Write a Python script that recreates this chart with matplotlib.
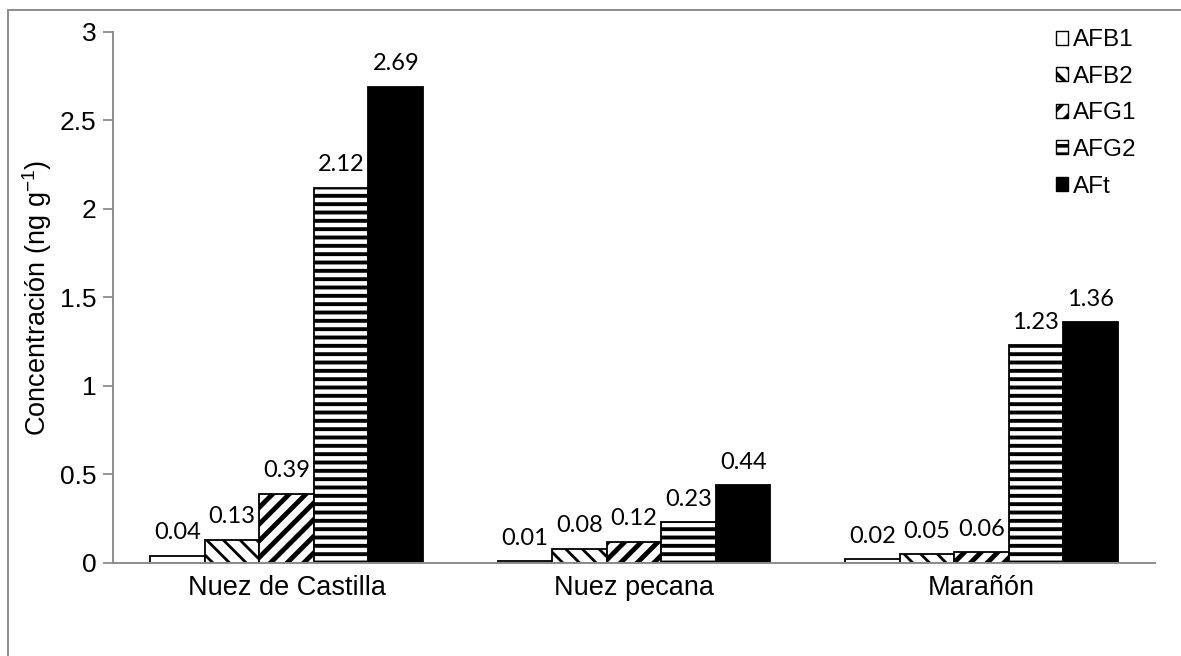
import numpy as np
import matplotlib
matplotlib.use('Agg')
import matplotlib.pyplot as plt
from matplotlib.patches import Rectangle

# datos
categorias = ['Nuez de Castilla', 'Nuez pecana', 'Marañón']
series = ['AFB1', 'AFB2', 'AFG1', 'AFG2', 'AFt']
afb1 = [0.04, 0.01, 0.02]
afb2 = [0.13, 0.08, 0.05]
afg1 = [0.39, 0.12, 0.06]
afg2 = [2.12, 0.23, 1.23]
aft = [2.69, 0.44, 1.36]
valores = [afb1, afb2, afg1, afg2, aft]

colores = ['white', 'white', 'white', 'white', 'black']
tramas = ['', '\\\\', '//', '--', '']
grosor_trama = [1.0, 2.0, 3.5, 2.8, 1.0]

plt.rcParams['font.family'] = ['Liberation Sans', 'DejaVu Sans']
plt.rcParams['hatch.linewidth'] = 2.6

fig = plt.figure(figsize=(11.81, 6.56), dpi=100)
ax = fig.add_axes([0.0957, 0.1418, 0.8823, 0.8095])

# marco exterior gris
fig.patches.append(Rectangle((8 / 1181, -0.05), 1.1, 1.05 - 10 / 656,
                             transform=fig.transFigure, fill=False,
                             edgecolor='#8c8c8c', linewidth=1.4))

x = np.arange(len(categorias)) + 0.5
ancho = 0.157
for i, (nombre, vals) in enumerate(zip(series, valores)):
    pos = x + (i - 2) * ancho
    barras = ax.bar(pos, vals, ancho, color=colores[i], edgecolor='black',
                    hatch=tramas[i], linewidth=1.3, label=nombre)
    for b in barras:
        if hasattr(b, 'set_hatch_linewidth'):
            b.set_hatch_linewidth(grosor_trama[i])
    for b, v in zip(barras, vals):
        ax.annotate(f'{v:.2f}', (b.get_x() + b.get_width() / 2, v),
                    xytext=(0, 9), textcoords='offset points',
                    ha='center', va='bottom', fontsize=17,
                    family=['Lato', 'DejaVu Sans'])

ax.set_xlim(0, 3)
ax.set_ylim(0, 3)
ax.set_yticks([0, 0.5, 1, 1.5, 2, 2.5, 3])
ax.set_yticklabels(['0', '0.5', '1', '1.5', '2', '2.5', '3'])
ax.set_xticks(x)
ax.set_xticklabels(categorias)
ax.tick_params(axis='y', labelsize=19, length=7, width=1.3, color='#8c8c8c', pad=5)
ax.tick_params(axis='x', labelsize=19.5, length=0, pad=9)
ax.set_ylabel('Concentración (ng g$^{\\mathregular{-1}}$)', fontsize=19.5, labelpad=4)

for lado in ['top', 'right']:
    ax.spines[lado].set_visible(False)
for lado in ['left', 'bottom']:
    ax.spines[lado].set_color('#8c8c8c')
    ax.spines[lado].set_linewidth(1.4)

ley = ax.legend(loc='upper right', bbox_to_anchor=(0.982, 1.005), frameon=False,
                fontsize=17.5, handlelength=0.5, handleheight=0.5,
                handletextpad=0.2, labelspacing=0.6, borderaxespad=0.0,
                borderpad=0.0)
for h in ley.legend_handles:
    h.set_linewidth(1.0)

fig.savefig('out.png', dpi=100)
